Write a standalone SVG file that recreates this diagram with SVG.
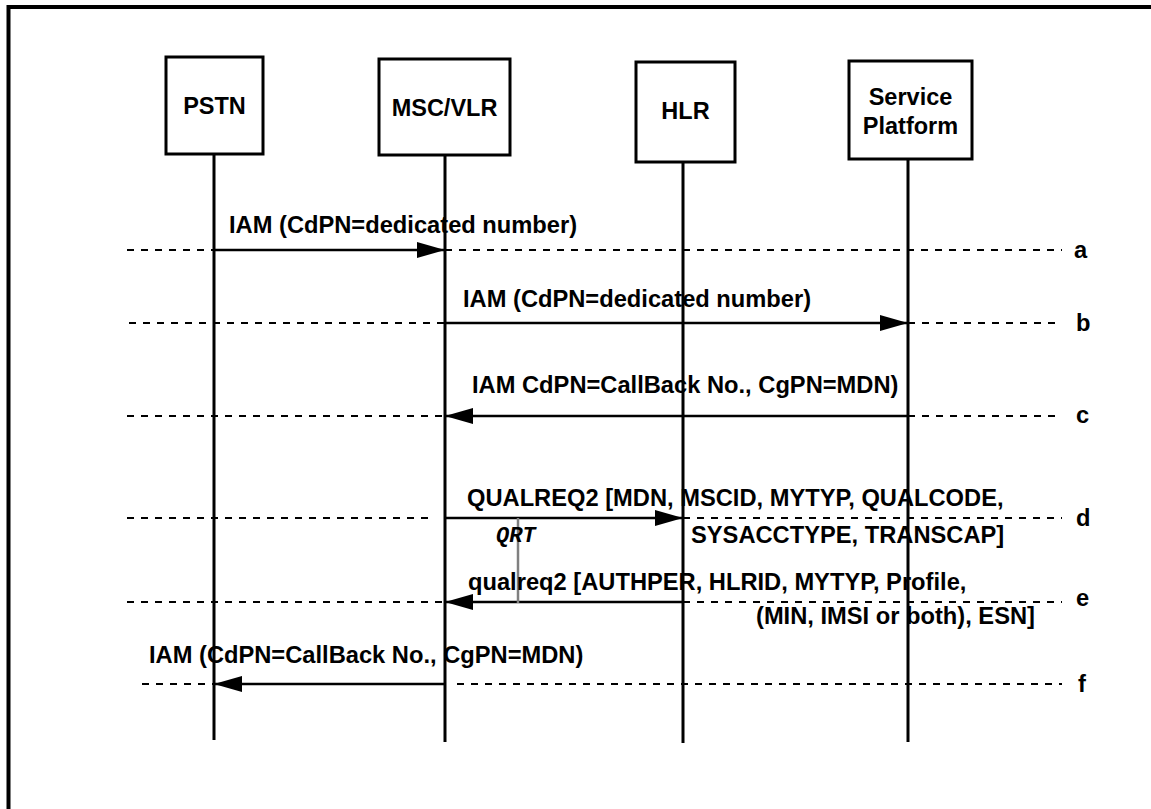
<svg xmlns="http://www.w3.org/2000/svg" width="1151" height="809" viewBox="0 0 1151 809">
  <defs>
    <marker id="arrow" viewBox="0 0 28 16" refX="28" refY="8" markerWidth="28" markerHeight="16" markerUnits="userSpaceOnUse" orient="auto">
      <path d="M0,0 L28,8 L0,16 Z" fill="#000"/>
    </marker>
    <style>
      .frame { fill: none; stroke: #000; stroke-width: 4; }
      .box { fill: #fff; stroke: #000; stroke-width: 3; }
      .life { stroke: #000; stroke-width: 3; }
      .msg { stroke: #000; stroke-width: 2.5; fill: none; marker-end: url(#arrow); }
      .dash { stroke: #000; stroke-width: 2; stroke-dasharray: 7 7; fill: none; }
      .timer { stroke: #808080; stroke-width: 2.5; }
      .name { font-family: "Liberation Sans", Arial, sans-serif; font-weight: bold; font-size: 23.5px; text-anchor: middle; fill: #000; }
      .lbl { font-family: "Liberation Sans", Arial, sans-serif; font-weight: bold; font-size: 23.7px; fill: #000; }
      .step { font-family: "Liberation Sans", Arial, sans-serif; font-weight: bold; font-size: 23.7px; fill: #000; }
      .qrt { font-family: "Liberation Mono", "Courier New", monospace; font-weight: bold; font-style: italic; font-size: 22px; fill: #000; }
    </style>
  </defs>

  <rect width="1151" height="809" fill="#fff"/>

  <!-- open frame: top and left edges only -->
  <path class="frame" d="M8.5,809 L8.5,7 L1151,7"/>

  <!-- lifelines -->
  <g id="lifelines">
    <line class="life" x1="214" y1="154" x2="214" y2="740"/>
    <line class="life" x1="445" y1="155" x2="445" y2="742"/>
    <line class="life" x1="683" y1="162" x2="683" y2="743"/>
    <line class="life" x1="908" y1="159" x2="908" y2="742"/>
  </g>

  <!-- entities -->
  <g id="pstn">
    <rect class="box" x="166" y="57" width="97" height="97"/>
    <text class="name" x="214.5" y="114">PSTN</text>
  </g>
  <g id="msc-vlr">
    <rect class="box" x="379" y="59" width="131" height="96"/>
    <text class="name" x="444.5" y="116">MSC/VLR</text>
  </g>
  <g id="hlr">
    <rect class="box" x="636" y="62" width="99" height="100"/>
    <text class="name" x="685.5" y="119">HLR</text>
  </g>
  <g id="service-platform">
    <rect class="box" x="849" y="61" width="123" height="98"/>
    <text class="name" x="910.5" y="105">Service</text>
    <text class="name" x="910.5" y="134">Platform</text>
  </g>

  <!-- step reference lines -->
  <g id="steps">
    <path class="dash" d="M127,250 H214 M445,250 H1062"/>
    <path class="dash" d="M129,323 H445 M908,323 H1062"/>
    <path class="dash" d="M127,416 H445 M908,416 H1062"/>
    <path class="dash" d="M127,518 H433 M683,518 H1062"/>
    <path class="dash" d="M127,602 H445 M683,602 H1062"/>
    <path class="dash" d="M142,684 H214 M457,684 H1062"/>
    <text class="step" x="1074" y="258">a</text>
    <text class="step" x="1076" y="331">b</text>
    <text class="step" x="1076" y="423">c</text>
    <text class="step" x="1076" y="526">d</text>
    <text class="step" x="1076" y="606">e</text>
    <text class="step" x="1078" y="692">f</text>
  </g>

  <!-- messages -->
  <g id="connectors">
    <line class="msg" x1="214" y1="250" x2="445" y2="250"/>
    <line class="msg" x1="445" y1="323" x2="908" y2="323"/>
    <line class="msg" x1="908" y1="416" x2="445" y2="416"/>
    <line class="msg" x1="445" y1="518" x2="683" y2="518"/>
    <line class="msg" x1="683" y1="602" x2="445" y2="602"/>
    <line class="msg" x1="445" y1="684" x2="214" y2="684"/>
    <line class="timer" x1="518" y1="518" x2="518" y2="603"/>
  </g>

  <!-- message labels -->
  <g id="labels">
    <text class="lbl" x="229" y="233">IAM (CdPN=dedicated number)</text>
    <text class="lbl" x="463" y="307">IAM (CdPN=dedicated number)</text>
    <text class="lbl" x="472" y="393">IAM CdPN=CallBack No., CgPN=MDN)</text>
    <text class="lbl" x="467" y="506">QUALREQ2 [MDN, MSCID, MYTYP, QUALCODE,</text>
    <text class="lbl" x="691" y="543">SYSACCTYPE, TRANSCAP]</text>
    <text class="qrt" x="496" y="542">QRT</text>
    <text class="lbl" x="468" y="590">qualreq2 [AUTHPER, HLRID, MYTYP, Profile,</text>
    <text class="lbl" x="756" y="624">(MIN, IMSI or both), ESN]</text>
    <text class="lbl" x="149" y="663">IAM (CdPN=CallBack No., CgPN=MDN)</text>
  </g>
</svg>
